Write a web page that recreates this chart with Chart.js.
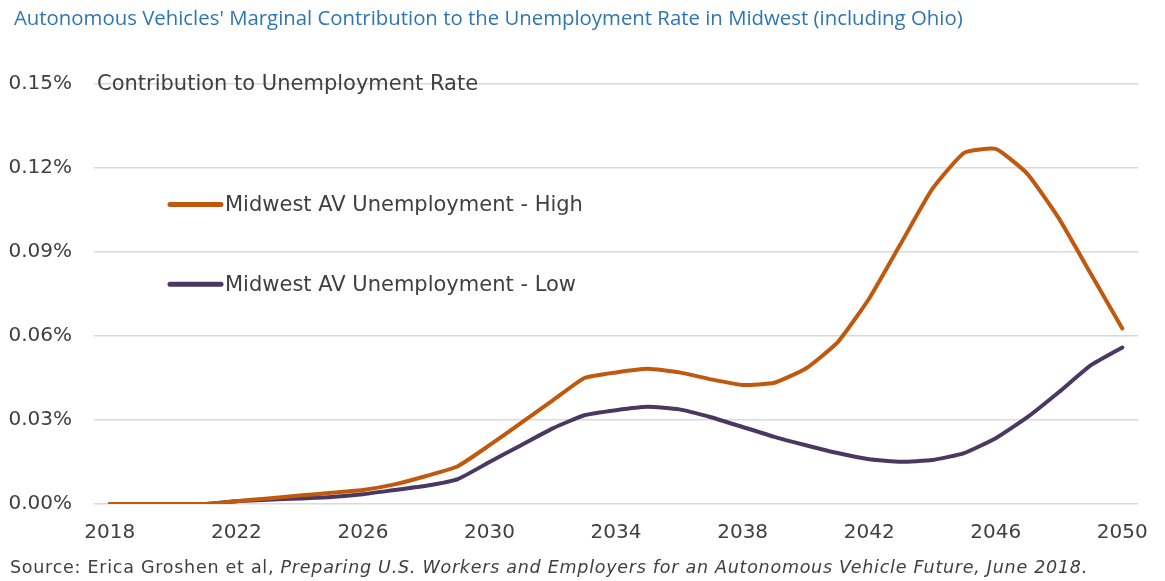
<!DOCTYPE html>
<html>
<head>
<meta charset="utf-8">
<script src="https://cdn.jsdelivr.net/npm/chart.js@4"></script>
<style>
  html, body { margin: 0; padding: 0; background: #ffffff; }
  body { width: 1165px; height: 581px; position: relative; overflow: hidden; }
  #title { position: absolute; left: 14px; top: 3px; font-family: "Open Sans", sans-serif; font-size: 18.5px; color: #2E75B6; white-space: nowrap; }
  #source { position: absolute; left: 10px; top: 557px; font-family: "DejaVu Sans", sans-serif; font-size: 17.5px; color: #404040; white-space: nowrap; }
  #wrap { position: absolute; left: 0; top: 0; width: 1165px; height: 581px; }
</style>
</head>
<body>
<div id="wrap"><canvas id="c" width="1165" height="581"></canvas></div>
<div id="title">Autonomous Vehicles' Marginal Contribution to the Unemployment Rate in Midwest (including Ohio)</div>
<div id="source">Source: Erica Groshen et al, <i>Preparing U.S. Workers and Employers for an Autonomous Vehicle Future, June 2018.</i></div>
<script>
const years = [2018,2019,2020,2021,2022,2023,2024,2025,2026,2027,2028,2029,2030,2031,2032,2033,2034,2035,2036,2037,2038,2039,2040,2041,2042,2043,2044,2045,2046,2047,2048,2049,2050];
const highSeries = [0,0,0,0,0.001,0.002,0.003,0.004,0.005,0.007,0.010,0.0135,0.021,0.029,0.037,0.045,0.047,0.0483,0.047,0.0445,0.0425,0.0433,0.0484,0.0577,0.0734,0.093,0.1126,0.1254,0.1268,0.1179,0.1019,0.0823,0.0627];
const lowSeries = [0,0,0,0,0.001,0.0015,0.002,0.0025,0.0035,0.005,0.0065,0.0089,0.015,0.021,0.027,0.0317,0.0335,0.0347,0.0338,0.031,0.0275,0.024,0.021,0.0182,0.016,0.0151,0.0157,0.0182,0.0235,0.031,0.040,0.0495,0.0559];
const seriesLabels = ["Midwest AV Unemployment - High", "Midwest AV Unemployment - Low"];
const yTicks = [0, 0.03, 0.06, 0.09, 0.12, 0.15];
const axisTitle = "Contribution to Unemployment Rate";

const ORANGE = "#C0580E";
const PURPLE = "#4B3862";
const TEXT = "#404040";
const TICKFONT = { family: "DejaVu Sans", size: 20 };

// stretch a text element to a target width via letter spacing
function fitWidth(el, target) {
  el.style.letterSpacing = "0px";
  const w = el.getBoundingClientRect().width;
  const n = el.textContent.length;
  el.style.letterSpacing = ((target - w) / n).toFixed(3) + "px";
}
// scale the font size of a text element to a target width
function fitSize(el, target) {
  const fs = parseFloat(getComputedStyle(el).fontSize);
  const w = el.getBoundingClientRect().width;
  el.style.fontSize = (fs * target / w).toFixed(2) + "px";
}
fitSize(document.getElementById("title"), 949);
fitWidth(document.getElementById("source"), 1078);

const overlayPlugin = {
  id: "overlay",
  afterDraw(chart) {
    const ctx = chart.ctx;
    const ys = chart.scales.y;
    ctx.save();
    ctx.font = "21px 'DejaVu Sans'";
    ctx.fillStyle = TEXT;
    ctx.textBaseline = "middle";
    ctx.textAlign = "left";
    ctx.fillText(axisTitle, 97, ys.getPixelForValue(0.15) + 1);
    const legendY = [ys.getPixelForValue(0.107), ys.getPixelForValue(0.0785)];
    chart.data.datasets.forEach((ds, i) => {
      const y = legendY[i];
      ctx.strokeStyle = ds.borderColor;
      ctx.lineWidth = 5;
      ctx.lineCap = "round";
      ctx.beginPath();
      ctx.moveTo(170, y);
      ctx.lineTo(221, y);
      ctx.stroke();
      ctx.fillStyle = TEXT;
      ctx.fillText(ds.label, 225, y + 1);
    });
    ctx.restore();
  }
};

new Chart(document.getElementById("c"), {
  type: "line",
  data: {
    labels: years,
    datasets: [
      { label: seriesLabels[0], data: highSeries, borderColor: ORANGE, backgroundColor: ORANGE, borderWidth: 4, pointRadius: 0, tension: 0.15, borderCapStyle: "round", borderJoinStyle: "round" },
      { label: seriesLabels[1], data: lowSeries, borderColor: PURPLE, backgroundColor: PURPLE, borderWidth: 4, pointRadius: 0, tension: 0.15, borderCapStyle: "round", borderJoinStyle: "round" }
    ]
  },
  options: {
    responsive: false,
    animation: false,
    events: [],
    layout: { padding: { left: 0, right: 16, top: 84, bottom: 36 } },
    plugins: { legend: { display: false }, tooltip: { enabled: false }, title: { display: false } },
    scales: {
      x: {
        type: "category",
        offset: true,
        grid: { display: false, drawTicks: false },
        border: { display: false },
        ticks: {
          autoSkip: false, maxRotation: 0, padding: 17, color: TEXT, font: TICKFONT,
          callback: function(v, i) { const yr = years[i]; return (yr - 2018) % 4 === 0 ? String(yr) : ""; }
        },
        afterFit(s) { s.height = 41; }
      },
      y: {
        min: 0, max: 0.15,
        afterBuildTicks(s) { s.ticks = yTicks.map(v => ({ value: v })); },
        grid: { color: "#D9D9D9", lineWidth: 1.5, drawTicks: false },
        border: { display: false },
        ticks: { padding: 22, color: TEXT, font: TICKFONT, callback: v => v.toFixed(2) + "%" },
        afterFit(s) { s.width = 94; }
      }
    }
  },
  plugins: [overlayPlugin]
});
</script>
</body>
</html>
